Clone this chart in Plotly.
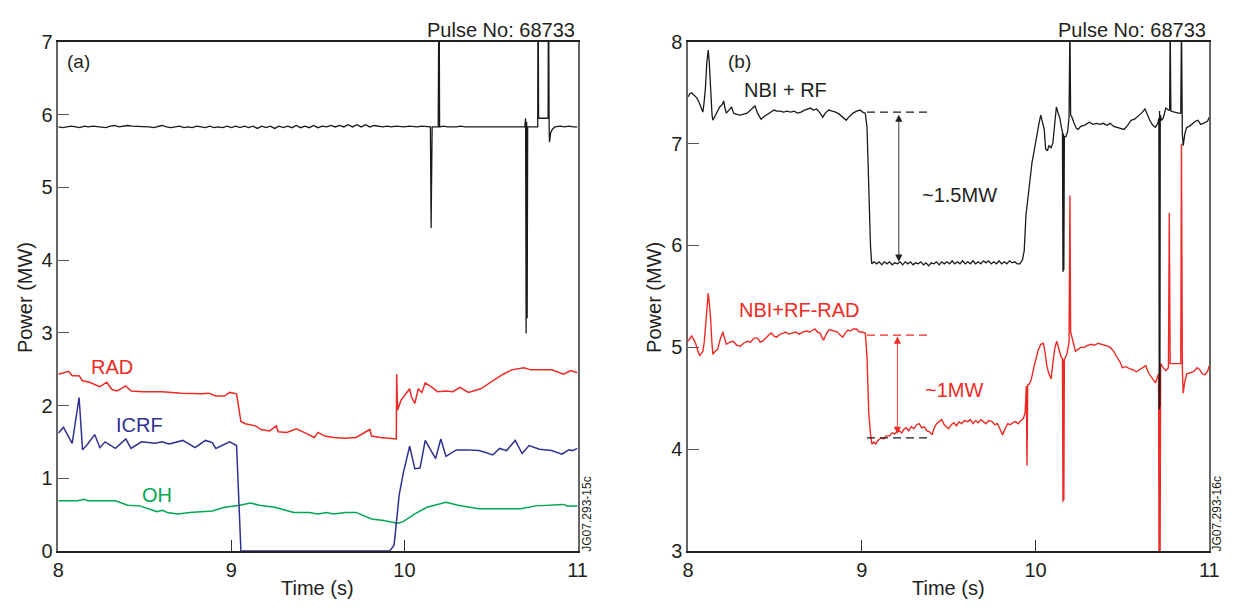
import plotly.graph_objects as go

W, H = 1239, 615

# ---------------- Panel (a) data ----------------
a_total_t = [8.000, 8.025, 8.050, 8.075, 8.100, 8.125, 8.150, 8.175, 8.200, 8.225, 8.250, 8.275, 8.300, 8.325,
             8.350, 8.375, 8.400, 8.425, 8.450, 8.475, 8.500, 8.525, 8.550, 8.575, 8.600, 8.625, 8.650, 8.675,
             8.700, 8.725, 8.750, 8.775, 8.800, 8.825, 8.850, 8.875, 8.900, 8.925, 8.950, 8.975, 9.000, 9.025,
             9.050, 9.075, 9.100, 9.125, 9.150, 9.175, 9.200, 9.225, 9.250, 9.275, 9.300, 9.325, 9.350, 9.375,
             9.400, 9.425, 9.450, 9.475, 9.500, 9.525, 9.550, 9.575, 9.600, 9.625, 9.650, 9.675, 9.700, 9.725,
             9.750, 9.775, 9.800, 9.825, 9.850, 9.875, 9.900, 9.925, 9.950, 9.975, 10.000, 10.025, 10.050,
             10.075, 10.100, 10.125, 10.150, 10.154, 10.156, 10.158, 10.160, 10.175, 10.195, 10.200, 10.203,
             10.225, 10.250, 10.300, 10.325, 10.350, 10.400, 10.425, 10.450, 10.500, 10.525, 10.550, 10.600,
             10.650, 10.675, 10.695, 10.700, 10.703, 10.706, 10.709, 10.712, 10.770, 10.772, 10.775, 10.830,
             10.832, 10.836, 10.838, 10.845, 10.855, 10.870, 10.900, 10.925, 10.950, 10.975, 11.000]
a_total_v = [5.83, 5.82, 5.83, 5.84, 5.83, 5.82, 5.84, 5.83, 5.84, 5.83, 5.83, 5.82, 5.84, 5.85,
             5.83, 5.84, 5.85, 5.84, 5.84, 5.83, 5.84, 5.83, 5.82, 5.83, 5.85, 5.83, 5.82, 5.83,
             5.84, 5.82, 5.83, 5.82, 5.84, 5.83, 5.82, 5.84, 5.82, 5.83, 5.82, 5.84, 5.82, 5.84,
             5.82, 5.84, 5.82, 5.84, 5.81, 5.84, 5.82, 5.84, 5.81, 5.84, 5.82, 5.84, 5.82, 5.85,
             5.82, 5.84, 5.82, 5.85, 5.82, 5.84, 5.83, 5.85, 5.83, 5.85, 5.83, 5.86, 5.83, 5.86,
             5.83, 5.86, 5.83, 5.85, 5.84, 5.83, 5.84, 5.83, 5.84, 5.83, 5.83, 5.84, 5.83,
             5.83, 5.84, 5.83, 5.83, 4.44, 5.70, 4.45, 5.83, 5.83, 5.83, 8.20, 5.83,
             5.84, 5.83, 5.83, 5.84, 5.83, 5.83, 5.84, 5.83, 5.83, 5.84, 5.83, 5.83,
             5.83, 5.84, 5.83, 5.95, 2.99, 5.90, 3.20, 5.83, 5.83, 8.20, 5.95, 5.95,
             8.20, 5.83, 5.62, 5.75, 5.80, 5.83, 5.84, 5.83, 5.84, 5.83, 5.83]

rad_t = [8.00, 8.06, 8.08, 8.12, 8.14, 8.18, 8.24, 8.28, 8.31, 8.34, 8.39, 8.42, 8.49, 8.60, 8.71, 8.83,
         8.87, 8.91, 8.96, 8.99, 9.03, 9.04, 9.055, 9.08, 9.14, 9.17, 9.22, 9.26, 9.27, 9.32, 9.375, 9.42,
         9.48, 9.50, 9.54, 9.59, 9.655, 9.72, 9.80, 9.81, 9.86, 9.953, 9.955, 9.96, 9.98, 10.03, 10.04,
         10.06, 10.08, 10.10, 10.12, 10.16, 10.19, 10.24, 10.28, 10.32, 10.37, 10.44, 10.50, 10.57, 10.62,
         10.69, 10.73, 10.85, 10.92, 10.96, 11.00]
rad_v = [2.43, 2.47, 2.41, 2.41, 2.34, 2.32, 2.26, 2.32, 2.22, 2.20, 2.27, 2.20, 2.19, 2.19, 2.17, 2.16,
         2.17, 2.13, 2.13, 2.18, 2.16, 2.03, 1.78, 1.75, 1.72, 1.67, 1.65, 1.72, 1.64, 1.63, 1.68, 1.63,
         1.56, 1.63, 1.58, 1.56, 1.55, 1.56, 1.67, 1.58, 1.56, 1.54, 2.43, 1.94, 2.07, 2.23, 2.12,
         2.03, 2.23, 2.18, 2.31, 2.25, 2.19, 2.20, 2.19, 2.25, 2.18, 2.23, 2.32, 2.43, 2.49,
         2.52, 2.49, 2.49, 2.43, 2.48, 2.45]

icrf_t = [8.00, 8.03, 8.08, 8.12, 8.14, 8.17, 8.21, 8.24, 8.27, 8.33, 8.39, 8.42, 8.48, 8.56, 8.60, 8.64,
          8.72, 8.79, 8.85, 8.89, 8.91, 8.99, 9.03, 9.055, 9.915, 9.94, 9.97, 9.995, 10.03, 10.06, 10.09,
          10.12, 10.18, 10.21, 10.24, 10.30, 10.36, 10.43, 10.46, 10.51, 10.55, 10.59, 10.64, 10.68, 10.72,
          10.78, 10.85, 10.91, 10.95, 10.97, 11.00]
icrf_v = [1.62, 1.70, 1.48, 2.11, 1.39, 1.47, 1.60, 1.42, 1.50, 1.41, 1.54, 1.41, 1.50, 1.48, 1.50, 1.47,
          1.52, 1.42, 1.52, 1.49, 1.41, 1.50, 1.45, 0.00, 0.00, 0.08, 0.78, 1.09, 1.44, 1.13, 1.14,
          1.52, 1.27, 1.54, 1.30, 1.39, 1.39, 1.38, 1.36, 1.32, 1.41, 1.38, 1.52, 1.34, 1.45,
          1.40, 1.38, 1.33, 1.39, 1.38, 1.41]

oh_t = [8.00, 8.11, 8.15, 8.17, 8.33, 8.40, 8.47, 8.57, 8.60, 8.63, 8.69, 8.76, 8.89, 8.96, 9.05, 9.11,
        9.16, 9.25, 9.36, 9.45, 9.50, 9.55, 9.59, 9.66, 9.72, 9.81, 9.88, 9.96, 9.99, 10.06, 10.13, 10.24,
        10.31, 10.43, 10.67, 10.76, 10.92, 10.94, 11.00]
oh_v = [0.69, 0.69, 0.71, 0.69, 0.69, 0.63, 0.62, 0.54, 0.56, 0.53, 0.51, 0.53, 0.55, 0.60, 0.63, 0.66,
        0.63, 0.60, 0.53, 0.53, 0.51, 0.53, 0.51, 0.53, 0.53, 0.44, 0.42, 0.38, 0.40, 0.51, 0.60, 0.67,
        0.63, 0.58, 0.58, 0.62, 0.64, 0.62, 0.62]

# ---------------- Panel (b) data ----------------
b_total_t = [8.000, 8.010, 8.020, 8.035, 8.050, 8.065, 8.078, 8.085, 8.092, 8.100, 8.108, 8.116, 8.122, 8.130,
             8.138, 8.143, 8.155, 8.170, 8.182, 8.195, 8.205, 8.212, 8.220, 8.235, 8.250, 8.262, 8.275, 8.300,
             8.320, 8.340, 8.360, 8.385, 8.400, 8.420, 8.440, 8.460, 8.480, 8.495, 8.510, 8.530, 8.550, 8.570,
             8.590, 8.610, 8.630, 8.650, 8.670, 8.690, 8.705, 8.720, 8.740, 8.760, 8.775, 8.790, 8.810, 8.830,
             8.850, 8.870, 8.890, 8.910, 8.930, 8.950, 8.970, 8.990, 9.005, 9.020, 9.030, 9.040, 9.050, 9.057,
             9.070, 9.085, 9.100, 9.115, 9.130, 9.145, 9.160, 9.175, 9.190, 9.205, 9.220, 9.235, 9.250, 9.265,
             9.280, 9.295, 9.310, 9.325, 9.340, 9.355, 9.370, 9.385, 9.400, 9.415, 9.430, 9.445, 9.460, 9.475,
             9.490, 9.505, 9.520, 9.535, 9.550, 9.565, 9.580, 9.595, 9.610, 9.625, 9.640, 9.655, 9.670, 9.685,
             9.700, 9.715, 9.730, 9.745, 9.760, 9.775, 9.790, 9.805, 9.820, 9.835, 9.850, 9.865, 9.880, 9.895,
             9.910, 9.925, 9.935, 9.945, 9.955, 9.965, 9.980, 9.990, 10.000, 10.010, 10.020, 10.030, 10.040,
             10.050, 10.058, 10.068, 10.078, 10.090, 10.100, 10.110, 10.120, 10.130, 10.140, 10.150, 10.155,
             10.158, 10.161, 10.163, 10.166, 10.175, 10.185, 10.193, 10.198, 10.202, 10.210, 10.220, 10.235,
             10.245, 10.260, 10.280, 10.300, 10.310, 10.330, 10.350, 10.370, 10.390, 10.410, 10.430, 10.450,
             10.470, 10.490, 10.510, 10.530, 10.550, 10.570, 10.590, 10.610, 10.630, 10.645, 10.660, 10.675,
             10.690, 10.700, 10.706, 10.710, 10.712, 10.714, 10.716, 10.718, 10.725, 10.735, 10.750, 10.765,
             10.772, 10.775, 10.779, 10.800, 10.820, 10.836, 10.840, 10.845, 10.850, 10.860, 10.870, 10.885,
             10.900, 10.920, 10.935, 10.950, 10.965, 10.980, 10.990, 11.000]
b_total_v = [7.46, 7.49, 7.50, 7.47, 7.45, 7.40, 7.33, 7.31, 7.40, 7.55, 7.80, 7.92, 7.80, 7.50,
             7.28, 7.23, 7.27, 7.32, 7.36, 7.38, 7.42, 7.35, 7.30, 7.33, 7.36, 7.30, 7.29, 7.28,
             7.29, 7.30, 7.33, 7.37, 7.30, 7.24, 7.27, 7.29, 7.31, 7.33, 7.32, 7.32, 7.31, 7.32,
             7.31, 7.32, 7.30, 7.31, 7.33, 7.34, 7.35, 7.33, 7.34, 7.30, 7.26, 7.30, 7.33, 7.32,
             7.31, 7.29, 7.26, 7.23, 7.27, 7.30, 7.32, 7.33, 7.31, 7.30, 7.16, 6.53, 6.00, 5.82,
             5.84, 5.82, 5.84, 5.81, 5.84, 5.82, 5.84, 5.81, 5.83, 5.82, 5.84, 5.81, 5.84, 5.82,
             5.84, 5.81, 5.83, 5.82, 5.84, 5.81, 5.83, 5.80, 5.83, 5.82, 5.84, 5.81, 5.84, 5.82,
             5.84, 5.82, 5.85, 5.82, 5.84, 5.82, 5.85, 5.82, 5.84, 5.82, 5.85, 5.82, 5.84, 5.82,
             5.85, 5.83, 5.85, 5.82, 5.84, 5.82, 5.85, 5.82, 5.84, 5.82, 5.85, 5.83, 5.84, 5.82,
             5.82, 5.86, 5.95, 6.30, 6.45, 6.63, 6.82, 6.91, 7.02, 7.10, 7.20, 7.28, 7.22,
             7.14, 6.95, 6.93, 6.98, 6.96, 7.01, 7.20, 7.36, 7.30, 7.25, 7.15, 7.12,
             5.74, 7.10, 5.76, 7.07, 7.07, 7.12, 7.26, 8.20, 7.28, 7.26, 7.21, 7.15,
             7.14, 7.17, 7.18, 7.20, 7.21, 7.19, 7.20, 7.19, 7.20, 7.18, 7.20, 7.17,
             7.16, 7.15, 7.14, 7.18, 7.23, 7.24, 7.27, 7.30, 7.34, 7.28, 7.22, 7.18,
             7.16, 7.19, 7.21, 7.25, 4.39, 7.32, 4.42, 7.28, 7.23, 7.25, 7.35, 7.33,
             7.33, 8.20, 7.32, 7.31, 7.30, 7.30, 8.20, 7.10, 6.98, 7.10, 7.16, 7.17,
             7.19, 7.22, 7.23, 7.19, 7.20, 7.21, 7.22, 7.26]

b_net_t = [8.000, 8.010, 8.020, 8.035, 8.045, 8.057, 8.067, 8.077, 8.085, 8.093, 8.100, 8.108, 8.116, 8.123,
           8.130, 8.137, 8.143, 8.155, 8.170, 8.185, 8.200, 8.210, 8.220, 8.240, 8.260, 8.280, 8.300, 8.320,
           8.340, 8.360, 8.380, 8.400, 8.415, 8.430, 8.450, 8.470, 8.480, 8.495, 8.510, 8.530, 8.550, 8.560,
           8.580, 8.600, 8.620, 8.640, 8.660, 8.680, 8.700, 8.720, 8.730, 8.745, 8.760, 8.770, 8.780, 8.795,
           8.810, 8.820, 8.840, 8.860, 8.875, 8.890, 8.905, 8.920, 8.935, 8.950, 8.970, 8.985, 9.000, 9.020,
           9.030, 9.040, 9.050, 9.058, 9.070, 9.080, 9.090, 9.100, 9.110, 9.125, 9.140, 9.160, 9.175, 9.190,
           9.200, 9.215, 9.230, 9.240, 9.255, 9.270, 9.285, 9.300, 9.315, 9.330, 9.345, 9.360, 9.375, 9.390,
           9.405, 9.415, 9.430, 9.445, 9.460, 9.475, 9.490, 9.500, 9.515, 9.530, 9.545, 9.560, 9.575, 9.590,
           9.610, 9.625, 9.640, 9.655, 9.670, 9.685, 9.700, 9.715, 9.730, 9.750, 9.765, 9.780, 9.795, 9.810,
           9.825, 9.840, 9.855, 9.870, 9.885, 9.900, 9.915, 9.930, 9.940, 9.947, 9.951, 9.955, 9.965, 9.975,
           9.990, 10.000, 10.015, 10.030, 10.045, 10.055, 10.065, 10.075, 10.090, 10.100, 10.112, 10.122,
           10.135, 10.148, 10.155, 10.158, 10.161, 10.163, 10.166, 10.180, 10.193, 10.198, 10.202, 10.210,
           10.220, 10.230, 10.245, 10.260, 10.280, 10.300, 10.320, 10.340, 10.360, 10.380, 10.400, 10.420,
           10.435, 10.450, 10.470, 10.485, 10.500, 10.520, 10.540, 10.560, 10.580, 10.600, 10.620, 10.635,
           10.650, 10.665, 10.680, 10.690, 10.700, 10.708, 10.711, 10.714, 10.717, 10.720, 10.735, 10.750,
           10.765, 10.770, 10.775, 10.800, 10.820, 10.836, 10.840, 10.845, 10.850, 10.858, 10.870, 10.890,
           10.910, 10.930, 10.945, 10.960, 10.975, 10.990, 11.000]
b_net_v = [5.06, 5.09, 5.11, 5.07, 5.03, 4.96, 4.92, 4.94, 4.96, 5.05, 5.21, 5.42, 5.53, 5.42,
           5.28, 5.05, 4.93, 4.96, 4.98, 5.08, 5.15, 5.09, 5.03, 5.05, 5.06, 5.02, 5.01, 5.04,
           5.06, 5.05, 5.09, 5.09, 5.05, 5.06, 5.10, 5.13, 5.14, 5.11, 5.10, 5.13, 5.14, 5.15,
           5.13, 5.14, 5.15, 5.13, 5.15, 5.16, 5.15, 5.17, 5.18, 5.15, 5.14, 5.10, 5.07, 5.13,
           5.17, 5.17, 5.16, 5.15, 5.12, 5.10, 5.14, 5.17, 5.16, 5.18, 5.18, 5.15, 5.15, 5.14,
           4.90, 4.36, 4.15, 4.05, 4.07, 4.05, 4.08, 4.10, 4.11, 4.10, 4.13, 4.13, 4.16, 4.15,
           4.17, 4.18, 4.16, 4.19, 4.21, 4.18, 4.22, 4.20, 4.24, 4.25, 4.21, 4.22, 4.18, 4.17,
           4.14, 4.20, 4.25, 4.27, 4.29, 4.24, 4.22, 4.20, 4.24, 4.26, 4.23, 4.27, 4.25, 4.28,
           4.27, 4.29, 4.25, 4.28, 4.26, 4.29, 4.27, 4.25, 4.28, 4.27, 4.24, 4.25, 4.20, 4.14,
           4.20, 4.25, 4.24, 4.26, 4.27, 4.25, 4.28, 4.30, 4.36, 4.62, 3.84, 4.63, 4.64, 4.68,
           4.80, 4.87, 4.97, 5.03, 5.04, 4.95, 4.82, 4.75, 4.69, 4.85, 5.00, 5.06,
           4.98, 4.90, 4.89, 3.48, 4.88, 3.50, 4.88, 4.93, 5.05, 6.49, 5.15, 5.10,
           5.02, 4.96, 4.98, 5.00, 5.00, 5.02, 5.03, 5.02, 5.04, 5.03, 5.02, 5.01,
           4.99, 4.96, 4.90, 4.86, 4.80, 4.81, 4.79, 4.78, 4.76, 4.78, 4.80, 4.82,
           4.75, 4.71, 4.67, 4.65, 4.70, 4.74, 2.90, 4.80, 2.90, 4.84, 4.80, 4.77,
           4.80, 6.32, 4.84, 4.84, 4.84, 4.84, 7.00, 4.80, 4.55, 4.65, 4.74, 4.75,
           4.76, 4.80, 4.78, 4.74, 4.73, 4.76, 4.82]

# reference marks in panel (b)
ref_t = [9.03, 9.39]
ref_top_black = [7.31, 7.31]
ref_top_red = [5.12, 5.12]
ref_low_black = [4.11, 4.11]
arrow_black = dict(t=9.213, top=7.30, bottom=5.84)
arrow_red = dict(t=9.205, top=5.12, bottom=4.15)

# ---------------- styling ----------------
BLACK = "#1a1a1a"
RED = "#ee2a24"
BLUE = "#2e3192"
GREEN = "#00a651"
TXT = "#231f20"
FONT = "Liberation Sans, Arial, Helvetica, sans-serif"

def px(x):
    return x / W

def py(y):
    return 1 - y / H

fig = go.Figure()

# panel (a)
fig.add_trace(go.Scatter(x=oh_t, y=oh_v, mode="lines", line=dict(color=GREEN, width=1.5), xaxis="x", yaxis="y"))
fig.add_trace(go.Scatter(x=icrf_t, y=icrf_v, mode="lines", line=dict(color=BLUE, width=1.5), xaxis="x", yaxis="y"))
fig.add_trace(go.Scatter(x=rad_t, y=rad_v, mode="lines", line=dict(color=RED, width=1.5), xaxis="x", yaxis="y"))
fig.add_trace(go.Scatter(x=a_total_t, y=a_total_v, mode="lines", line=dict(color=BLACK, width=1.3), xaxis="x", yaxis="y"))

# panel (b)
fig.add_trace(go.Scatter(x=b_net_t, y=b_net_v, mode="lines", line=dict(color=RED, width=1.4), xaxis="x2", yaxis="y2"))
fig.add_trace(go.Scatter(x=b_total_t, y=b_total_v, mode="lines", line=dict(color=BLACK, width=1.3), xaxis="x2", yaxis="y2"))
fig.add_trace(go.Scatter(x=ref_t, y=ref_top_black, mode="lines", line=dict(color=BLACK, width=1.3, dash="8px,5px"), xaxis="x2", yaxis="y2"))
fig.add_trace(go.Scatter(x=ref_t, y=ref_top_red, mode="lines", line=dict(color=RED, width=1.3, dash="8px,5px"), xaxis="x2", yaxis="y2"))
fig.add_trace(go.Scatter(x=ref_t, y=ref_low_black, mode="lines", line=dict(color=BLACK, width=1.3, dash="8px,5px"), xaxis="x2", yaxis="y2"))

xdom1 = [px(53), px(579)]
xdom2 = [px(691), px(1219)]
ydom = [py(560), py(32)]

def xax(dom, anchor):
    return dict(domain=dom, anchor=anchor, range=[8, 11], tickvals=[8, 9, 10, 11], ticks="inside",
                ticklen=11, tickwidth=1, tickcolor="#333", showline=True, linecolor="#222", linewidth=1.5,
                mirror=True, showgrid=False, zeroline=False, tickfont=dict(size=20, color=TXT, family=FONT),
                layer="below traces")

def yax(dom, anchor, rng, vals):
    return dict(domain=dom, anchor=anchor, range=rng, tickvals=vals, ticks="inside",
                ticklen=11, tickwidth=1, tickcolor="#555", showline=True, linecolor="#666", linewidth=1.5,
                mirror=True, showgrid=False, zeroline=False, tickfont=dict(size=20, color=TXT, family=FONT),
                layer="below traces")

fig.update_layout(
    width=W, height=H, margin=dict(l=0, r=0, t=0, b=0),
    paper_bgcolor="white", plot_bgcolor="white", showlegend=False,
    font=dict(family=FONT, color=TXT, size=20),
    xaxis=xax(xdom1, "y"), yaxis=yax(ydom, "x", [0, 7], [0, 1, 2, 3, 4, 5, 6, 7]),
    xaxis2=xax(xdom2, "y2"), yaxis2=yax(ydom, "x2", [3, 8], [3, 4, 5, 6, 7, 8]),
)

ann = []
# paper texts
for cx in [(53 + 579) / 2, (691 + 1219) / 2]:
    ann.append(dict(x=px(cx), y=py(598), xref="paper", yref="paper", text="Time (s)", showarrow=False,
                    xanchor="center", yanchor="middle", font=dict(size=20, color=TXT)))
for cx in [20, 657]:
    ann.append(dict(x=px(cx), y=py(297), xref="paper", yref="paper", text="Power (MW)", showarrow=False,
                    textangle=-90, xanchor="center", yanchor="middle", font=dict(size=20, color=TXT)))
for rx in [578, 1218]:
    ann.append(dict(x=px(rx), y=py(20), xref="paper", yref="paper", text="Pulse No: 68733", showarrow=False,
                    xanchor="right", yanchor="middle", font=dict(size=20, color=TXT)))
for cx, lab in [(589, "JG07.293-15c"), (1227, "JG07.293-16c")]:
    ann.append(dict(x=px(cx), y=py(522), xref="paper", yref="paper", text=lab, showarrow=False,
                    textangle=-90, xanchor="center", yanchor="middle", font=dict(size=12, color=TXT)))
ann.append(dict(x=px(73), y=py(52), xref="paper", yref="paper", text="(a)", showarrow=False,
                xanchor="center", yanchor="middle", font=dict(size=19, color=TXT)))
ann.append(dict(x=px(743), y=py(52), xref="paper", yref="paper", text="(b)", showarrow=False,
                xanchor="center", yanchor="middle", font=dict(size=19, color=TXT)))

# panel (a) series labels
for t, v, lab, col in [(8.31, 2.53, "RAD", RED), (8.47, 1.73, "ICRF", BLUE), (8.57, 0.77, "OH", GREEN)]:
    ann.append(dict(x=t, y=v, xref="x", yref="y", text=lab, showarrow=False, xanchor="center",
                    yanchor="middle", font=dict(size=20, color=col)))

# panel (b) labels
for t, v, lab, col in [(8.56, 7.53, "NBI + RF", TXT), (9.56, 6.50, "~1.5MW", TXT),
                       (8.64, 5.37, "NBI+RF-RAD", RED), (9.53, 4.58, "~1MW", RED)]:
    ann.append(dict(x=t, y=v, xref="x2", yref="y2", text=lab, showarrow=False, xanchor="center",
                    yanchor="middle", font=dict(size=20, color=col)))

for a, col in [(arrow_black, TXT), (arrow_red, RED)]:
    ann.append(dict(x=a["t"], y=a["bottom"], ax=a["t"], ay=a["top"], xref="x2", yref="y2", axref="x2",
                    ayref="y2", text="", showarrow=True, arrowhead=2, startarrowhead=2, arrowside="end+start",
                    arrowsize=1.6, startarrowsize=1.6, arrowwidth=0.9, arrowcolor=col, standoff=0, startstandoff=0))

fig.update_layout(annotations=ann)
fig.write_html("out.html")
